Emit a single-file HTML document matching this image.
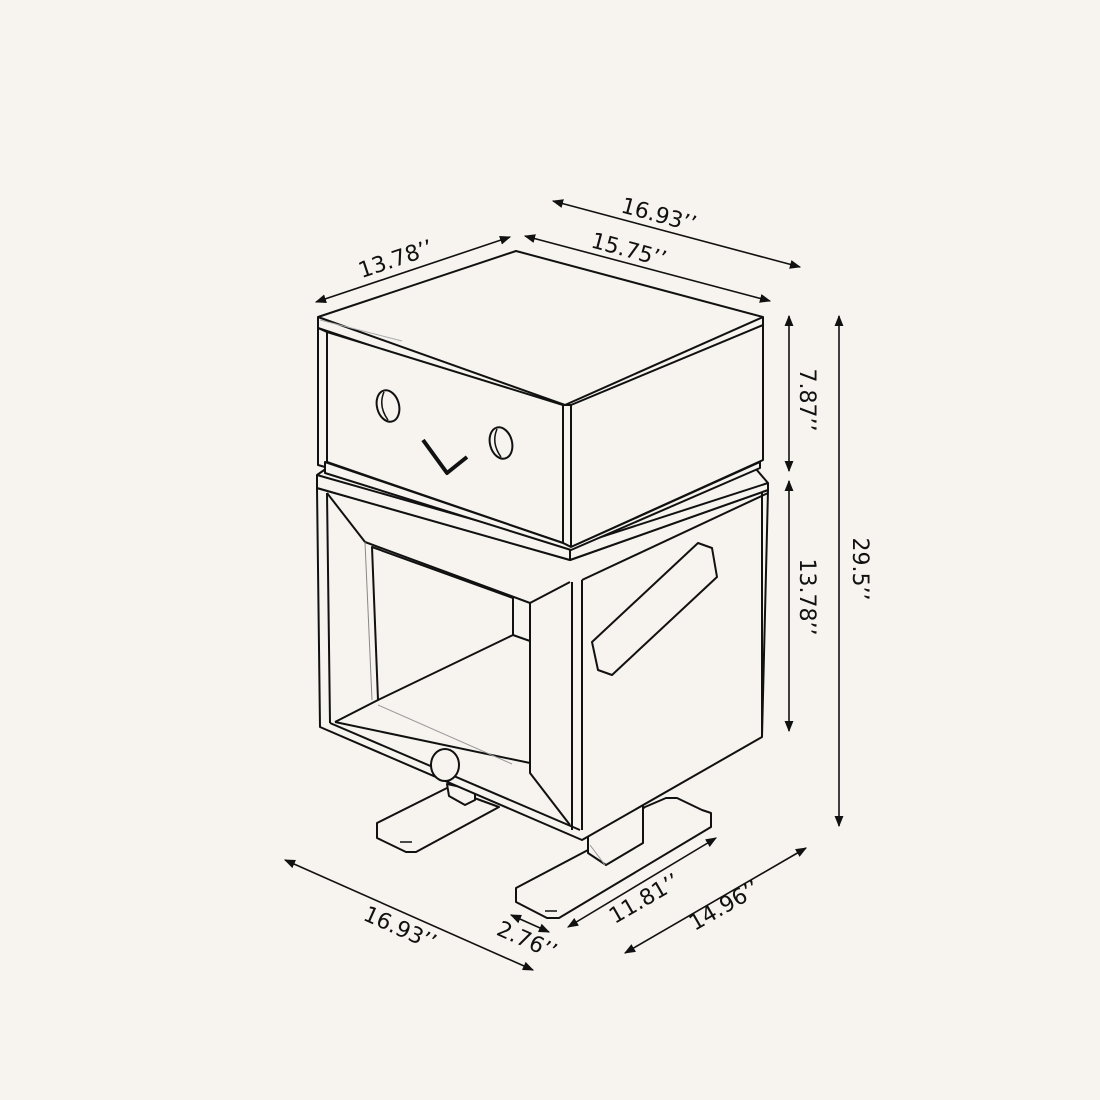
<!DOCTYPE html>
<html><head><meta charset="utf-8"><style>
html,body{margin:0;padding:0;background:#f7f4ef;}
svg{display:block}
text{font-family:"DejaVu Sans","Liberation Sans",sans-serif;font-size:22px;fill:#111;}
</style></head><body>
<svg width="1100" height="1100" viewBox="0 0 1100 1100" xmlns="http://www.w3.org/2000/svg">
<defs>
<marker id="a" viewBox="0 0 10 10" refX="9" refY="5" markerWidth="7" markerHeight="7" orient="auto-start-reverse"><path d="M0,1 L10,5 L0,9 z" fill="#111"/></marker>
</defs>
<rect width="1100" height="1100" fill="#f7f4ef"/>
<g fill="#f7f4ef" stroke="#111" stroke-width="2" stroke-linejoin="round">
<!-- feet -->
<polygon points="377,823 447,788 499,807 416,852 406,852 377,838"/>
<line x1="400" y1="842" x2="412" y2="842" stroke-width="1.5"/>
<polygon points="447,784 475,790 475,800 465,805 449,796"/>
<polygon points="516,888 588,850 645,807 666,798 677,798 702,810 711,813 711,827 559,918 547,918 516,902"/>
<line x1="545" y1="911" x2="557" y2="911" stroke-width="1.5"/>
<polygon points="588,835 643,805 643,843 606,865 588,853"/>
<line x1="590" y1="845" x2="605" y2="865" stroke="#999" stroke-width="1"/>

<!-- lower box body -->
<polygon points="317,488 320,727 582,840 762,737 768,490 570,560"/>
<line x1="327" y1="493" x2="330" y2="723"/>
<polyline points="330,723 580,830" fill="none"/>
<line x1="572" y1="582" x2="572" y2="830"/>
<line x1="582" y1="580" x2="582" y2="830"/>
<line x1="582" y1="580" x2="768" y2="493"/>
<line x1="762" y1="493" x2="762" y2="737"/>
<!-- top plate -->
<polygon points="317,475 330,466 750,462 768,483 768,490 570,560 317,488"/>
<polyline points="317,475 570,547 768,483" fill="none"/>
<line x1="570" y1="547" x2="570" y2="560"/>
<!-- opening -->
<polyline points="327,493 365,542 530,603 570,582" fill="none"/>
<polygon points="372,547 513,598 513,635 378,700"/>
<polyline points="513,635 530,641" fill="none"/>
<line x1="365" y1="542" x2="372" y2="700" stroke="#888" stroke-width="1"/>
<polyline points="530,603 530,773 570,825" fill="none"/>
<line x1="335" y1="722" x2="378" y2="700"/>
<polyline points="335,722 530,763" fill="none"/>
<line x1="378" y1="705" x2="512" y2="764" stroke="#999" stroke-width="1"/>
<ellipse cx="445" cy="765" rx="14" ry="16"/>
<polygon points="592,642 698,543 712,548 717,577 612,675 598,670"/>

<!-- top box -->
<polygon points="318,317 516,251 763,317 565,405"/>
<polyline points="318,317 318,328 565,410 565,405" fill="none"/>
<polyline points="565,410 763,325 763,317" fill="none"/>
<line x1="320" y1="320" x2="402" y2="341" stroke="#aaa" stroke-width="1"/>
<polygon points="318,328 327,332 327,462 325,467 318,465"/>
<polygon points="327,332 563,405 563,543 327,462"/>
<polygon points="563,405 571,405 571,547 563,543"/>
<polygon points="571,405 763,325 763,460 571,547"/>
<polygon points="325,462 563,543 571,547 760,462 760,468 571,550 325,473"/>
<ellipse cx="388" cy="406" rx="11" ry="16" transform="rotate(-15 388 406)"/>
<path d="M384,392 Q378,406 388,420" fill="none" stroke-width="1.5"/>
<ellipse cx="501" cy="443" rx="11" ry="16" transform="rotate(-15 501 443)"/>
<path d="M497,429 Q491,443 501,457" fill="none" stroke-width="1.5"/>
<polyline points="423,440 447,473 467,457" fill="none" stroke-width="4"/>
</g>

<!-- dimension lines -->
<g stroke="#111" stroke-width="1.6" fill="none">
<line x1="553" y1="201" x2="800" y2="267" marker-start="url(#a)" marker-end="url(#a)"/>
<line x1="525" y1="236" x2="770" y2="301" marker-start="url(#a)" marker-end="url(#a)"/>
<line x1="316" y1="302" x2="510" y2="237" marker-start="url(#a)" marker-end="url(#a)"/>
<line x1="789" y1="316" x2="789" y2="471" marker-start="url(#a)" marker-end="url(#a)"/>
<line x1="789" y1="481" x2="789" y2="731" marker-start="url(#a)" marker-end="url(#a)"/>
<line x1="839" y1="316" x2="839" y2="826" marker-start="url(#a)" marker-end="url(#a)"/>
<line x1="285" y1="860" x2="533" y2="970" marker-start="url(#a)" marker-end="url(#a)"/>
<line x1="511" y1="915" x2="549" y2="932" marker-start="url(#a)" marker-end="url(#a)"/>
<line x1="568" y1="927" x2="716" y2="838" marker-start="url(#a)" marker-end="url(#a)"/>
<line x1="625" y1="953" x2="806" y2="848" marker-start="url(#a)" marker-end="url(#a)"/>
</g>
<g text-anchor="middle">
<text transform="translate(657,222) rotate(15)">16.93’’</text>
<text transform="translate(627,257) rotate(15)">15.75’’</text>
<text transform="translate(398,266) rotate(-18.5)">13.78’’</text>
<text transform="translate(800,400) rotate(90)">7.87’’</text>
<text transform="translate(800,597) rotate(90)">13.78’’</text>
<text transform="translate(853,569) rotate(90)">29.5’’</text>
<text transform="translate(397,935) rotate(24)">16.93’’</text>
<text transform="translate(524,947) rotate(24)">2.76’’</text>
<text transform="translate(648,905) rotate(-30)">11.81’’</text>
<text transform="translate(728,912) rotate(-30)">14.96’’</text>
</g>
</svg>
</body></html>
